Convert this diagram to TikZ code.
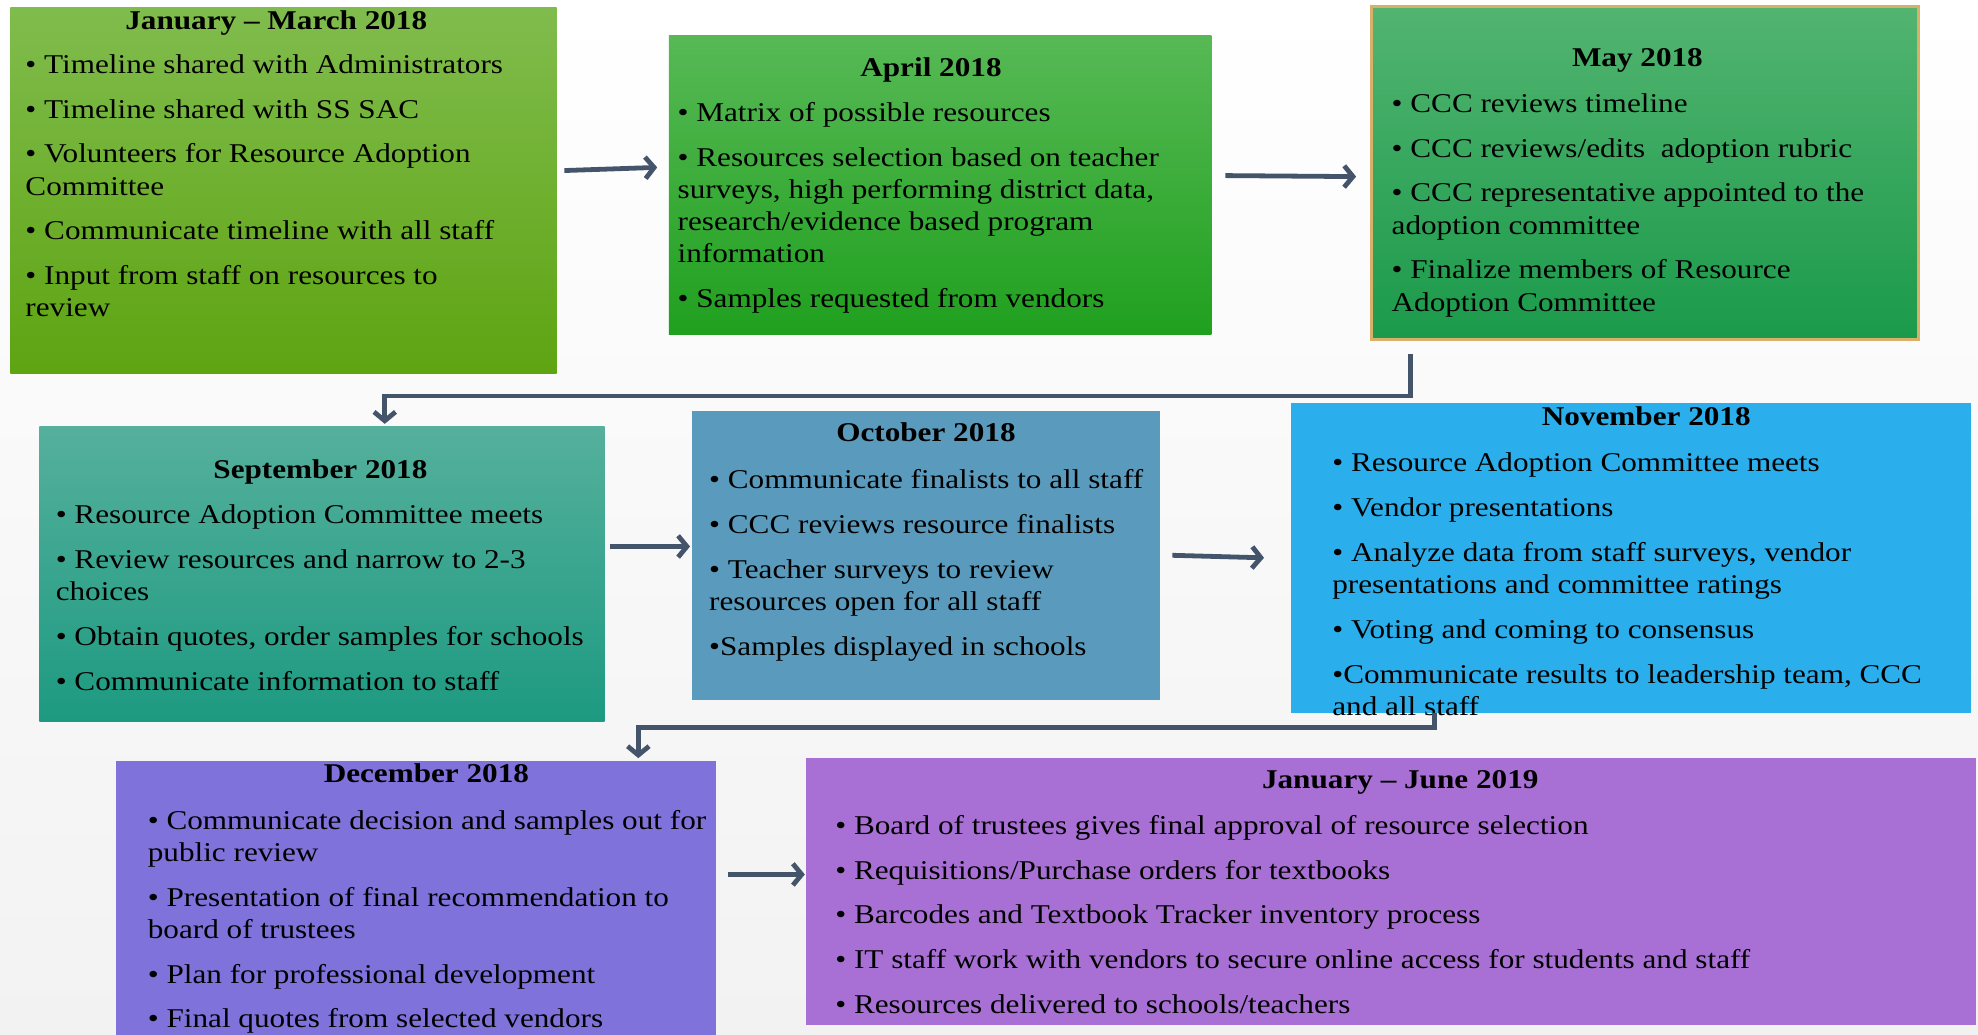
\documentclass[tikz,border=0pt]{standalone}
\usepackage{fontspec}
\setmainfont{Liberation Serif}[FakeStretch=1.15]
\usetikzlibrary{arrows.meta}

\definecolor{arrowc}{HTML}{44546A}
\definecolor{bggray}{HTML}{F2F2F2}
\definecolor{janTop}{HTML}{80BC4D}
\definecolor{janBot}{HTML}{5EA412}
\definecolor{aprTop}{HTML}{57B955}
\definecolor{aprBot}{HTML}{20A01F}
\definecolor{mayTop}{HTML}{52B470}
\definecolor{mayBot}{HTML}{1B9A4B}
\definecolor{mayLine}{HTML}{D9B06A}
\definecolor{sepTop}{HTML}{55B09C}
\definecolor{sepBot}{HTML}{1D9A81}
\definecolor{octFill}{HTML}{5A9BBD}
\definecolor{novFill}{HTML}{2AAFEC}
\definecolor{decFill}{HTML}{7F72DA}
\definecolor{lastFill}{HTML}{A870D4}

\tikzset{
  phase/.style={rectangle, draw=none, anchor=north west, inner sep=0pt},
  head/.style={font=\bfseries\fontsize{21.5}{25.5}\selectfont, anchor=base, inner sep=0pt},
  items/.style={font=\fontsize{21.5}{25.5}\selectfont, align=left, anchor=north west, inner sep=0pt},
  flow/.style={draw=arrowc, line width=3.8pt, -{Straight Barb[length=7pt,width=17pt]}}
}

\begin{document}
\begin{tikzpicture}[x=1pt,y=1pt]
	\shade[top color=white, bottom color=bggray] (0,0) rectangle (1568,820);
	\useasboundingbox (0,0) rectangle (1568,820);

	% phase boxes
	\node[phase, minimum width=433, minimum height=290, top color=janTop, bottom color=janBot] (boxA) at (8,814) {};
	\node[phase, minimum width=430, minimum height=237, top color=aprTop, bottom color=aprBot] (boxB) at (530,792) {};
	\node[phase, minimum width=434, minimum height=264, top color=mayTop, bottom color=mayBot, draw=mayLine, line width=2pt] (boxC) at (1086,816) {};
	\node[phase, minimum width=448, minimum height=234, top color=sepTop, bottom color=sepBot] (boxD) at (31,482) {};
	\node[phase, minimum width=371, minimum height=229, fill=octFill] (boxE) at (548,494) {};
	\node[phase, minimum width=539, minimum height=246, fill=novFill] (boxF) at (1023,501) {};
	\node[phase, minimum width=475, minimum height=230, fill=decFill] (boxG) at (92,217) {};
	\node[phase, minimum width=927, minimum height=211, fill=lastFill] (boxH) at (639,219) {};

	% titles
	\node[head] (headA) at (219,797) {January – March 2018};
	\node[head] (headB) at (738,759) {April 2018};
	\node[head] (headC) at (1298,767) {May 2018};
	\node[head] (headD) at (254,441) {September 2018};
	\node[head] (headE) at (734,470) {October 2018};
	\node[head] (headF) at (1305,483) {November 2018};
	\node[head] (headG) at (338,200) {December 2018};
	\node[head] (headH) at (1110,195) {January – June 2019};

	% bullet lists
	\node[items] (listA) at (20,777) {• Timeline shared with Administrators\\[10pt]
		• Timeline shared with SS SAC\\[10pt]
		• Volunteers for Resource Adoption\\Committee\\[10pt]
		• Communicate timeline with all staff\\[10pt]
		• Input from staff on resources to\\review};
	\node[items] (listB) at (537,739) {• Matrix of possible resources\\[10pt]
		• Resources selection based on teacher\\surveys, high performing district data,\\research/evidence based program\\information\\[10pt]
		• Samples requested from vendors};
	\node[items] (listC) at (1103,746) {• CCC reviews timeline\\[10pt]
		• CCC reviews/edits\ \ adoption rubric\\[10pt]
		• CCC representative appointed to the\\adoption committee\\[10pt]
		• Finalize members of Resource\\Adoption Committee};
	\node[items] (listD) at (44,420) {• Resource Adoption Committee meets\\[10pt]
		• Review resources and narrow to 2-3\\choices\\[10pt]
		• Obtain quotes, order samples for schools\\[10pt]
		• Communicate information to staff};
	\node[items] (listE) at (562,448) {• Communicate finalists to all staff\\[10pt]
		• CCC reviews resource finalists\\[10pt]
		• Teacher surveys to review\\resources open for all staff\\[10pt]
		•Samples displayed in schools};
	\node[items] (listF) at (1056,461) {• Resource Adoption Committee meets\\[10pt]
		• Vendor presentations\\[10pt]
		• Analyze data from staff surveys, vendor\\presentations and committee ratings\\[10pt]
		• Voting and coming to consensus\\[10pt]
		•Communicate results to leadership team, CCC\\and all staff};
	\node[items] (listG) at (117,178) {• Communicate decision and samples out for\\public review\\[10pt]
		• Presentation of final recommendation to\\board of trustees\\[10pt]
		• Plan for professional development\\[10pt]
		• Final quotes from selected vendors};
	\node[items] (listH) at (662,174) {• Board of trustees gives final approval of resource selection\\[10pt]
		• Requisitions/Purchase orders for textbooks\\[10pt]
		• Barcodes and Textbook Tracker inventory process\\[10pt]
		• IT staff work with vendors to secure online access for students and staff\\[10pt]
		• Resources delivered to schools/teachers};

	% arrows
	\draw[flow] ([xshift=6,yshift=16]boxA.east) -- ([xshift=-9,yshift=14]boxB.west);
	\draw[flow] ([xshift=11,yshift=7.5]boxB.east) -- ([xshift=-11,yshift=-3]boxC.west);
	\draw[flow] ([xshift=32,yshift=-11]boxC.south west) -- ++(0,-33) -| ([xshift=274,yshift=2]boxD.north west);
	\draw[flow] ([xshift=4,yshift=22]boxD.east) -- ([xshift=-1,yshift=7.5]boxE.west);
	\draw[flow] ([xshift=10,yshift=0.5]boxE.east) -- ([xshift=-21]boxF.west);
	\draw[flow] ([xshift=114]boxF.south west) -- ++(0,-11) -| ([xshift=414,yshift=2]boxG.north west);
	\draw[flow] ([xshift=10,yshift=25]boxG.east) -- ([xshift=-1,yshift=13.5]boxH.west);
\end{tikzpicture}
\end{document}
